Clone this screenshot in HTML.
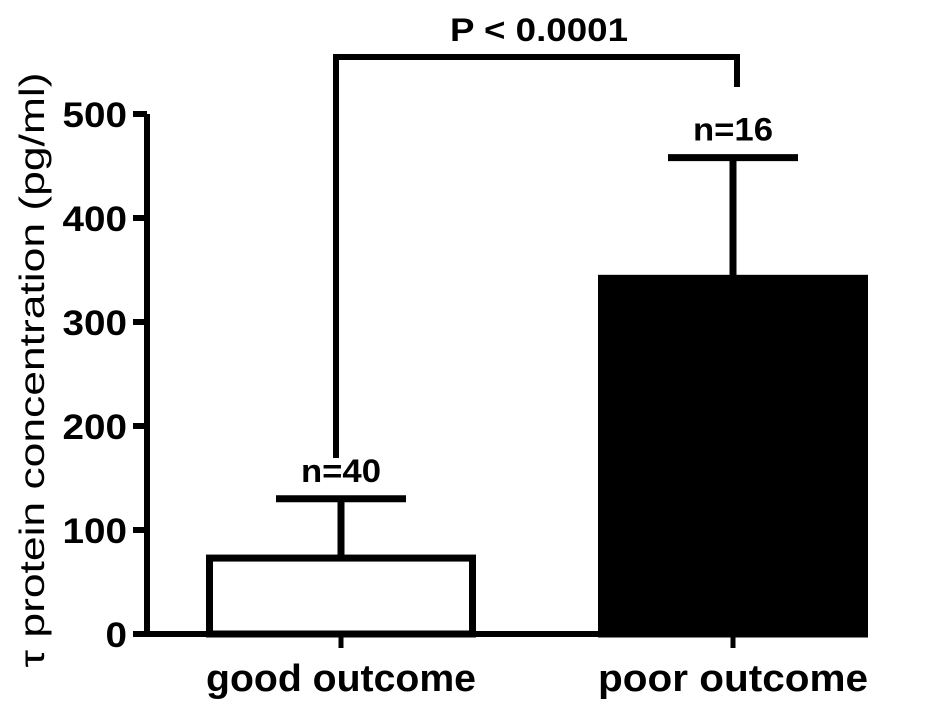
<!DOCTYPE html>
<html><head><meta charset="utf-8"><style>
html,body{margin:0;padding:0;background:#fff;}
svg{display:block;font-family:"Liberation Sans",Arial,sans-serif;}
</style></head><body>
<svg id="chart" width="945" height="711" viewBox="0 0 945 711"></svg>
<script>
const categories = ["good outcome", "poor outcome"];
const means = [73, 342];
const sems = [57, 116];
const nLabels = ["n=40", "n=16"];
const fills = ["#fff", "#000"];
const yTicks = [0, 100, 200, 300, 400, 500];
const pLabel = "P < 0.0001";

const NS = "http://www.w3.org/2000/svg";
const svg = document.getElementById("chart");
const y0 = 634, pxPer = 1.04;
function yScale(v){ return y0 - v * pxPer; }
const centers = [341, 733];
function xScale(i){ return centers[i]; }
const barW = 263;

function mk(tag, attrs, parent){
  const e = document.createElementNS(NS, tag);
  for (const k in attrs) e.setAttribute(k, attrs[k]);
  (parent || svg).appendChild(e);
  return e;
}

categories.forEach((c, i) => {
  const cx = xScale(i);
  const top = yScale(means[i]);
  const g = mk("g", {});
  
  
  const errTop = yScale(means[i] + sems[i]);
  const eb = mk("line", {x1: cx, x2: cx, y1: top, y2: errTop, stroke: "#000", "stroke-width": 7}, g);
  
  
  const cap = mk("line", {x1: cx - 65, x2: cx + 65, y1: errTop, y2: errTop, stroke: "#000", "stroke-width": 7}, g);
  
  
  const r = mk("rect", {x: cx - barW/2, y: top, width: barW, height: y0 - top, fill: fills[i], stroke: "#000", "stroke-width": 7}, g);
  
  
  const t = mk("text", {x: cx, y: errTop - 17, "text-anchor": "middle", "font-size": 32, "font-weight": "bold", textLength: 80, lengthAdjust: "spacingAndGlyphs"}, g);
  t.textContent = nLabels[i];
  
  
  const tk = mk("line", {x1: cx, x2: cx, y1: y0, y2: y0 + 14, stroke: "#000", "stroke-width": 5}, g);
  
  
  const lb = mk("text", {x: cx, y: 691, "text-anchor": "middle", "font-size": 38, "font-weight": "bold", textLength: 270, lengthAdjust: "spacingAndGlyphs"}, g);
  lb.textContent = c;
  
  
});

const ax = mk("path", {d: `M147 ${yScale(500)} L147 ${y0} L865 ${y0}`, fill: "none", stroke: "#000", "stroke-width": 6});


yTicks.forEach(v => {
  const y = yScale(v);
  const l = mk("line", {x1: 133, x2: 147, y1: y, y2: y, stroke: "#000", "stroke-width": 6});
  
  
  const digits = String(v).length;
  const t = mk("text", {x: 127, y: y + 13, "text-anchor": "end", "font-size": 35, "font-weight": "bold", textLength: digits * 21.5, lengthAdjust: "spacingAndGlyphs"});
  t.textContent = v;
  
  
});

const yt = mk("text", {x: 0, y: 0, transform: "translate(44,370) rotate(-90)", "text-anchor": "middle", "font-size": 35, textLength: 595, lengthAdjust: "spacingAndGlyphs"});
yt.textContent = "τ protein concentration (pg/ml)";



const br = mk("path", {d: "M336 458 L336 57 L737 57 L737 87", fill: "none", stroke: "#000", "stroke-width": 6});


const pt = mk("text", {x: 539, y: 41, "text-anchor": "middle", "font-size": 32, "font-weight": "bold", textLength: 178, lengthAdjust: "spacingAndGlyphs"});
pt.textContent = pLabel;


</script>
</body></html>
